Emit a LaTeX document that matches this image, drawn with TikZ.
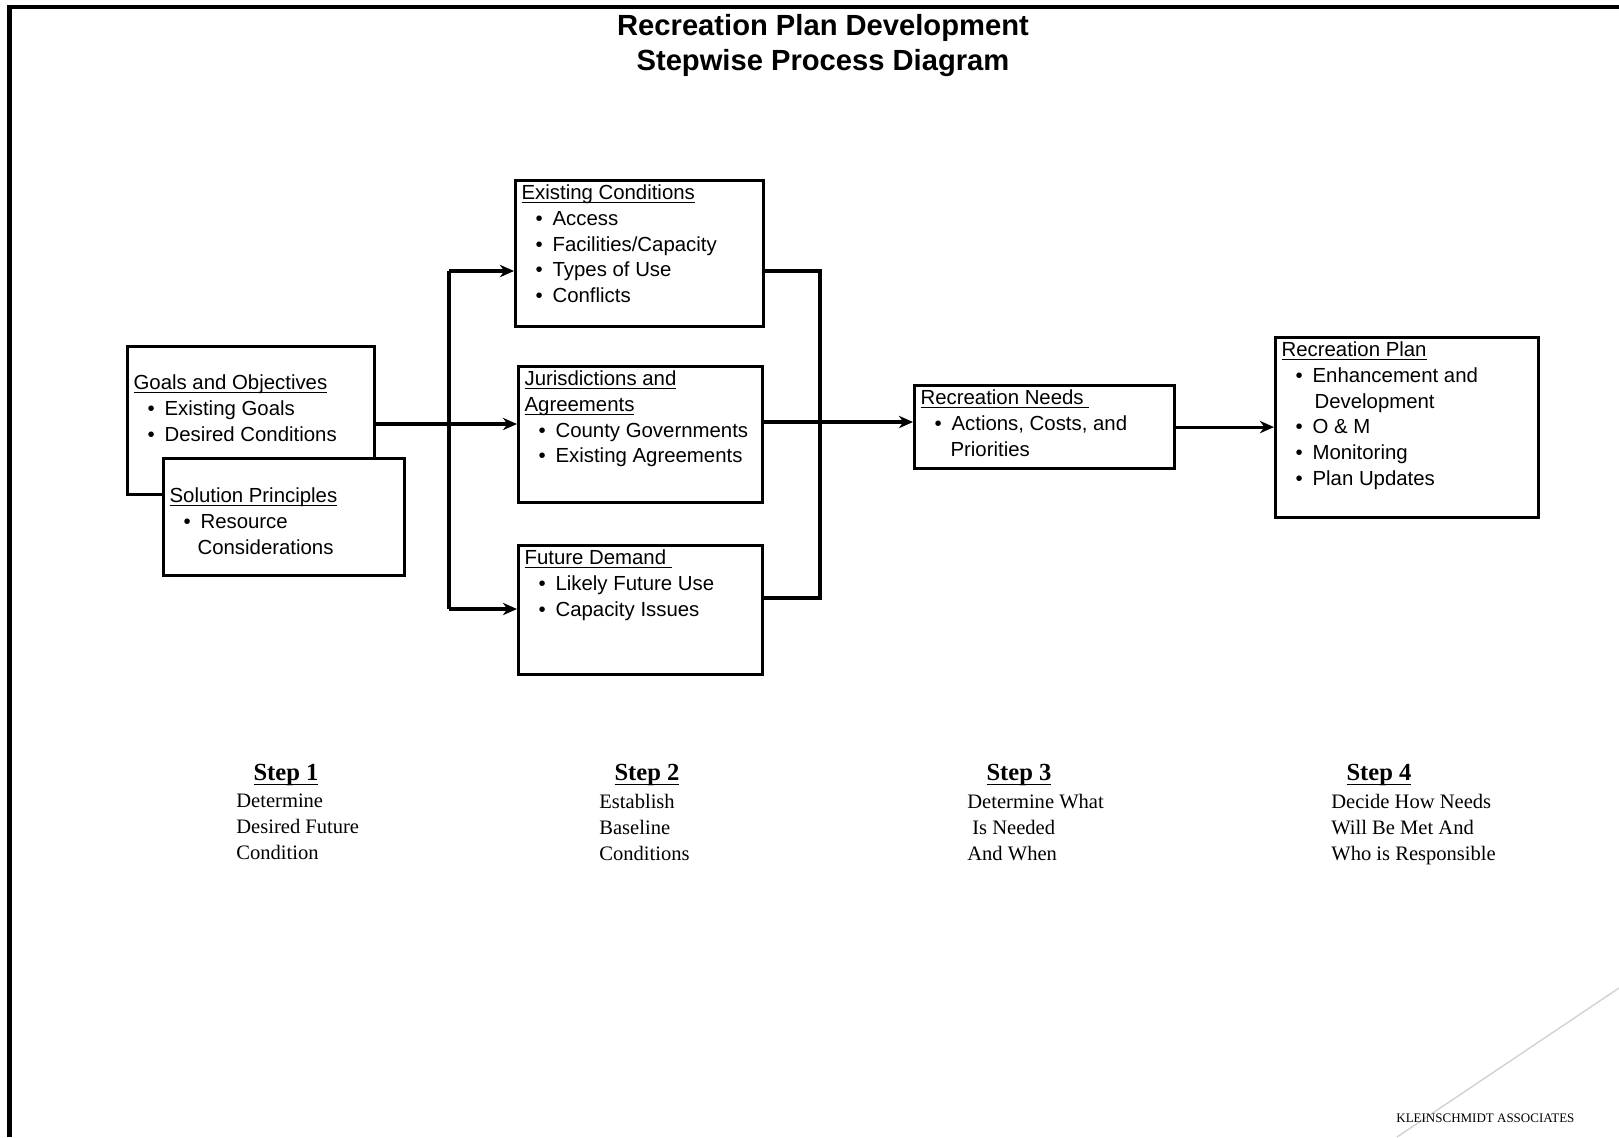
\documentclass[tikz,border=0pt]{standalone}
\usepackage{fontspec}
\setmainfont{Liberation Serif}
\newfontfamily\arialfont{Liberation Sans}
\usetikzlibrary{arrows.meta, positioning}

\newdimen\pxu \pxu=0.02cm
\newsavebox\ulbox
\newcommand{\ulinex}[3]{\leavevmode\sbox\ulbox{#3}\rlap{\rule[-#1]{\wd\ulbox}{#2}}\usebox\ulbox}
\newcommand{\uline}[1]{\ulinex{1.9pt}{0.55pt}{#1}}
\newcommand{\bul}{\hspace*{14\pxu}\makebox[17\pxu][l]{\textbullet}}
\newcommand{\boxtext}[3]{\parbox[t][#2\pxu][t]{#1\pxu}{#3}}

\tikzset{
  pbox/.style={draw, line width=1.8pt, fill=white, anchor=north west,
               inner xsep=6\pxu, inner ysep=4.5\pxu,
               font=\arialfont\fontsize{11.6pt}{14.6pt}\selectfont},
  conn/.style={line width=1.8pt},
  arr/.style={conn, -{Stealth[length=8pt, width=7pt, inset=2.5pt]}},
  steptitle/.style={font=\bfseries\fontsize{14pt}{17pt}\selectfont, anchor=base, inner sep=0pt},
  steptext/.style={font=\fontsize{11.7pt}{14.7pt}\selectfont, align=left,
                   anchor=north west, inner sep=0pt}
}

\begin{document}
\begin{tikzpicture}[x=0.02cm, y=-0.02cm]
    \useasboundingbox (0,0) rectangle (1619,1137);
    % frame
    \draw[line width=2.8pt] (9.5,1137) -- (9.5,7) -- (1619,7);
    \draw[gray!35, line width=0.8pt] (1619,988) -- (1397,1137);
    % title
    \node[font=\arialfont\bfseries\fontsize{16.6pt}{19.9pt}\selectfont, align=center,
          anchor=north, inner sep=0pt] (title) at (823,14.5)
          {Recreation Plan Development\\Stepwise Process Diagram};

    % step 1 boxes
    \node[pbox] (goals) at (126,345) {\boxtext{235}{139}{\vspace*{24\pxu}%
        \uline{Goals and Objectives}\\
        \bul Existing Goals\\
        \bul Desired Conditions}};
    \node[pbox] (princ) at (162,457) {\boxtext{229}{108}{\vspace*{25\pxu}%
        \uline{Solution Principles}\\
        \bul Resource\\
        \hspace*{28\pxu}Considerations}};

    % step 2 boxes
    \node[pbox] (cond) at (514,179) {\boxtext{236}{137}{%
        \uline{Existing Conditions}\\
        \bul Access\\
        \bul Facilities/Capacity\\
        \bul Types of Use\\
        \bul Conflicts}};
    \node[pbox] (juris) at (517,365) {\boxtext{232}{127}{%
        \uline{Jurisdictions and}\\
        \uline{Agreements}\\
        \bul County Governments\\
        \bul Existing Agreements}};
    \node[pbox] (demand) at (517,544) {\boxtext{232}{120}{%
        \uline{Future Demand\ }\\
        \bul Likely Future Use\\
        \bul Capacity Issues}};

    % step 3 and 4 boxes
    \node[pbox] (needs) at (913,384) {\boxtext{248}{74}{%
        \uline{Recreation Needs\ }\\
        \bul Actions, Costs, and\\
        \hspace*{30\pxu}Priorities}};
    \node[pbox] (plan) at (1274,336) {\boxtext{251}{171}{%
        \uline{Recreation Plan}\\
        \bul Enhancement and\\
        \hspace*{33\pxu}Development\\
        \bul O \& M\\
        \bul Monitoring\\
        \bul Plan Updates}};

    % connectors
    \coordinate (split) at (449,424);
    \coordinate (splittop) at (449,271);
    \coordinate (splitbot) at (449,609);
    \coordinate (jointop) at (820,271);
    \coordinate (joinmid) at (820,422);
    \coordinate (joinbot) at (820,598);
    \draw[arr] (goals.east |- split) -- (juris.west |- split);
    \draw[conn] (splittop) -- (splitbot);
    \draw[arr] (splittop) -- (splittop -| cond.west);
    \draw[arr] (splitbot) -- (splitbot -| demand.west);
    \draw[conn] (cond.east |- jointop) -- (jointop) -- (joinbot) -- (demand.east |- joinbot);
    \draw[arr] (juris.east |- joinmid) -- (needs.west |- joinmid);
    \draw[arr] (needs.east) -- (needs.east -| plan.west);

    % steps
    \node[steptitle] (s1) at (286,780) {\ulinex{3pt}{1pt}{Step 1}};
    \node[steptext] (s1text) at (236,794) {Determine\\Desired Future\\Condition};
    \node[steptitle] (s2) at (647,780) {\ulinex{3pt}{1pt}{Step 2}};
    \node[steptext] (s2text) at (599,794) {Establish\\Baseline\\Conditions};
    \node[steptitle] (s3) at (1019,780) {\ulinex{3pt}{1pt}{Step 3}};
    \node[steptext] (s3text) at (967,794) {Determine What\\\hspace*{5\pxu}Is Needed\\And When};
    \node[steptitle] (s4) at (1379,780) {\ulinex{3pt}{1pt}{Step 4}};
    \node[steptext] (s4text) at (1331,794) {Decide How Needs\\Will Be Met And\\Who is Responsible};

    \node[font=\fontsize{7.4pt}{9pt}\selectfont, anchor=base west, inner sep=0pt]
        (firm) at (1396,1122) {KLEINSCHMIDT ASSOCIATES};
\end{tikzpicture}
\end{document}
